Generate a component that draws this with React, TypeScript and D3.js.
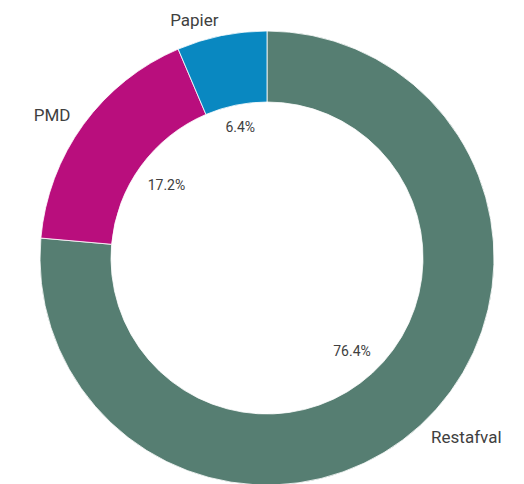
import React, { useEffect, useRef } from "react";
import * as d3 from "d3";

// waste fractions (share of total)
const categories = ["Restafval", "PMD", "Papier"];
const values = [76.4, 17.2, 6.4];
const colors = ["#567e72", "#b90e7d", "#0988c1"];

const W = 524;
const H = 484;

const App = () => {
  const ref = useRef<SVGSVGElement>(null);

  useEffect(() => {
    const svg = d3.select(ref.current);
    svg.selectAll("*").remove();

    const cx = 267;
    const cy = 258;
    const outerR = 227;
    const innerR = 156;

    const data = categories.map((c, i) => ({ name: c, value: values[i], color: colors[i] }));

    const pie = d3
      .pie<any>()
      .sort(null)
      .value((d) => d.value);
    const arcs = pie(data);

    const arc = d3.arc<any>().innerRadius(innerR).outerRadius(outerR);

    const g = svg.append("g").attr("transform", `translate(${cx},${cy})`);

    g.selectAll("path")
      .data(arcs)
      .enter()
      .append("path")
      .attr("d", arc)
      .attr("fill", (d) => d.data.color)
      .attr("stroke", "#ffffff")
      .attr("stroke-width", 0.8);

    const mid = (d) => (d.startAngle + d.endAngle) / 2;

    // percentages inside the hole: outer edge of the text box sits ~13px inside the ring
    const pctR = innerR - 13;
    const pct = g
      .selectAll("text.pct")
      .data(arcs)
      .enter()
      .append("text")
      .attr("class", "pct")
      .attr("text-anchor", "middle")
      .attr("dominant-baseline", "central")
      .style("font-family", "Roboto, 'Noto Sans', sans-serif")
      .style("font-size", "14px")
      .style("fill", "#404040")
      .text((d) => d.data.value.toFixed(1) + "%");

    pct.each(function (d) {
      const w = (this as SVGTextElement).getComputedTextLength();
      const h = 12;
      const sx = Math.sin(mid(d));
      const sy = -Math.cos(mid(d));
      const half = (w / 2) * Math.abs(sx) + (h / 2) * Math.abs(sy);
      const r = pctR - half;
      d3.select(this).attr("x", sx * r).attr("y", sy * r);
    });

    // category names outside
    g.selectAll("text.name")
      .data(arcs)
      .enter()
      .append("text")
      .attr("class", "name")
      .attr("x", (d) => Math.sin(mid(d)) * 243)
      .attr("y", (d) => -Math.cos(mid(d)) * 243)
      .attr("text-anchor", (d) => (Math.sin(mid(d)) < 0 ? "end" : "start"))
      .attr("dominant-baseline", "central")
      .style("font-family", "Roboto, 'Noto Sans', sans-serif")
      .style("font-size", "17px")
      .style("fill", "#404040")
      .text((d) => d.data.name);
  }, []);

  return (
    <svg
      ref={ref}
      width={W}
      height={H}
      style={{ position: "fixed", left: 0, top: 0, background: "#ffffff" }}
    ></svg>
  );
};

export default App;
